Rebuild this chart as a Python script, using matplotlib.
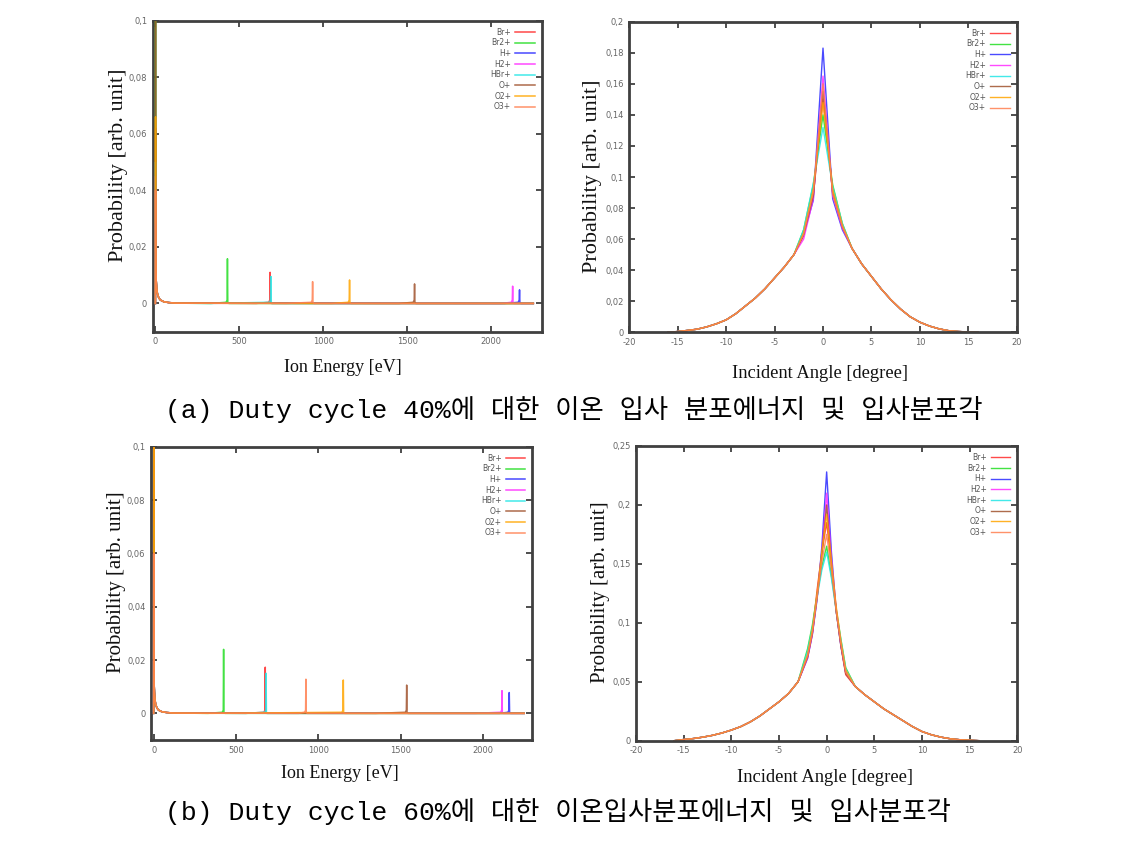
import matplotlib
matplotlib.use('Agg')
import matplotlib.pyplot as plt

species = ['Br+', 'Br2+', 'H+', 'H2+', 'HBr+', 'O+', 'O2+', 'O3+']
colors = ['#ff2a2a', '#22dd22', '#2a2aff', '#ff2aff', '#22e6e6', '#a0522d', '#ffa500', '#ff7f50']

# ---- ion energy distribution ----
low_e = [0, 1, 2, 3, 5, 8, 12, 20, 30, 50, 80, 120]
low_second = 0.02
low_tail = [0.011, 0.008, 0.0052, 0.0035, 0.002, 0.0012, 0.0006, 0.0003, 0.0001]

# duty cycle 40%
spike40 = [0.062, 0.105, 0.028, 0.045, 0.05, 0.12, 0.066, 0.04]
peak40_e = [683, 429, 2168, 2127, 688, 1543, 1156, 936]
peak40_p = [0.011, 0.0158, 0.0048, 0.0061, 0.0095, 0.0069, 0.0083, 0.0077]
base40_from = [600, 330, 2080, 2060, 330, 1450, 1050, 780]

# duty cycle 60%
spike60 = [0.11, 0.09, 0.05, 0.11, 0.07, 0.12, 0.115, 0.06]
peak60_e = [678, 425, 2160, 2116, 683, 1537, 1152, 925]
peak60_p = [0.0173, 0.024, 0.0078, 0.0085, 0.0150, 0.0106, 0.0125, 0.0128]
base60_from = [560, 330, 2100, 1950, 560, 1350, 350, 880]
base_ramp = [0.0, 0.0004, 0.0012]
e_end = 2250

# ---- incident angle distribution ----
ang_a = list(range(-16, 17))
wing_a_left = [0.0, 0.0005, 0.0012, 0.002, 0.0035, 0.0055, 0.008, 0.012, 0.017,
               0.022, 0.028, 0.035, 0.042, 0.05]
wing_a_right = [0.054, 0.044, 0.036, 0.028, 0.021, 0.015, 0.010, 0.0065, 0.004,
                0.0022, 0.001, 0.0005, 0.0002, 0.0]
core_a = [
    [0.062, 0.088, 0.150, 0.090, 0.068],
    [0.066, 0.095, 0.140, 0.095, 0.070],
    [0.063, 0.085, 0.183, 0.086, 0.066],
    [0.060, 0.086, 0.165, 0.088, 0.067],
    [0.066, 0.096, 0.132, 0.094, 0.070],
    [0.063, 0.088, 0.155, 0.090, 0.068],
    [0.064, 0.092, 0.148, 0.092, 0.069],
    [0.063, 0.090, 0.160, 0.089, 0.068],
]

ang_b = list(range(-16, -2)) + [-2, -1.5, -1, -0.5, 0, 0.5, 1, 1.5, 2] + list(range(3, 17))
wing_b_left = [0.0, 0.001, 0.0018, 0.003, 0.0045, 0.0065, 0.009, 0.012, 0.016,
               0.021, 0.027, 0.033, 0.04, 0.05]
wing_b_right = [0.046, 0.039, 0.033, 0.027, 0.022, 0.017, 0.012, 0.0078, 0.005,
                0.003, 0.0016, 0.0008, 0.0004, 0.0]
core_b = [
    [0.072, 0.092, 0.128, 0.160, 0.185, 0.150, 0.110, 0.080, 0.056],
    [0.078, 0.098, 0.124, 0.148, 0.165, 0.140, 0.112, 0.086, 0.062],
    [0.070, 0.090, 0.120, 0.165, 0.228, 0.160, 0.110, 0.080, 0.058],
    [0.070, 0.090, 0.122, 0.160, 0.210, 0.155, 0.112, 0.082, 0.058],
    [0.076, 0.096, 0.122, 0.145, 0.160, 0.138, 0.110, 0.085, 0.061],
    [0.071, 0.091, 0.122, 0.158, 0.200, 0.150, 0.110, 0.081, 0.057],
    [0.073, 0.094, 0.125, 0.160, 0.192, 0.152, 0.114, 0.084, 0.060],
    [0.072, 0.092, 0.122, 0.152, 0.175, 0.145, 0.110, 0.082, 0.058],
]

captions = ['(a) Duty cycle 40%에 대한 이온 입사 분포에너지 및 입사분포각',
            '(b) Duty cycle 60%에 대한 이온입사분포에너지 및 입사분포각']

W, H = 1121, 852
fig = plt.figure(figsize=(W / 100, H / 100), dpi=100)


def box(l, r, t, b):
    return [l / W, 1 - b / H, (r - l) / W, (b - t) / H]


def style(ax, xt, yt, ylabels):
    for s in ax.spines.values():
        s.set_linewidth(2)
        s.set_color('#404040')
    ax.set_xticks(xt)
    ax.set_yticks(yt)
    ax.set_yticklabels(ylabels)
    ax.set_xticklabels([str(v) for v in xt])
    ax.tick_params(direction='in', top=True, right=True, length=4, width=1.2,
                   color='#303030', labelsize=6, labelcolor='#666666', pad=4)
    ax.legend(loc='upper right', fontsize=5.5, markerfirst=False, frameon=False,
              handlelength=2.6, labelspacing=0.22, handletextpad=0.5,
              borderaxespad=0.5, labelcolor='#555555')


def energy_panel(ax, spike, pk_e, pk_p, base_from):
    for i, name in enumerate(species):
        e = low_e + [base_from[i], pk_e[i] - 8, pk_e[i] - 2, pk_e[i], pk_e[i] + 2, pk_e[i] + 8, e_end]
        p = [0.0, spike[i], low_second] + low_tail + base_ramp + [pk_p[i], 0.0004, 0.0, 0.0]
        ax.plot(e, p, color=colors[i], lw=1.1, alpha=0.85, label=name, zorder=3)
    ax.set_xlim(-16, 2300)
    ax.set_ylim(-0.01, 0.1)
    style(ax, [0, 500, 1000, 1500, 2000], [0, 0.02, 0.04, 0.06, 0.08, 0.1],
          ['0', '0,02', '0,04', '0,06', '0,08', '0,1'])


def angle_panel(ax, ang, wl, core, wr, ymax, yt, ylab):
    for i, name in enumerate(species):
        ax.plot(ang, wl + core[i] + wr, color=colors[i], lw=1.0, alpha=0.85, label=name)
    ax.set_xlim(-20, 20)
    ax.set_ylim(0, ymax)
    style(ax, [-20, -15, -10, -5, 0, 5, 10, 15, 20], yt, ylab)


ax1 = fig.add_axes(box(152.7, 541.7, 20.7, 331.7))
energy_panel(ax1, spike40, peak40_e, peak40_p, base40_from)
ax2 = fig.add_axes(box(629.3, 1016.7, 21.7, 332.3))
angle_panel(ax2, ang_a, wing_a_left, core_a, wing_a_right, 0.2,
            [0, 0.02, 0.04, 0.06, 0.08, 0.1, 0.12, 0.14, 0.16, 0.18, 0.2],
            ['0', '0,02', '0,04', '0,06', '0,08', '0,1', '0,12', '0,14', '0,16', '0,18', '0,2'])
ax3 = fig.add_axes(box(151, 532.3, 446.7, 740))
energy_panel(ax3, spike60, peak60_e, peak60_p, base60_from)
ax4 = fig.add_axes(box(636, 1017.3, 446, 740.7))
angle_panel(ax4, ang_b, wing_b_left, core_b, wing_b_right, 0.25,
            [0, 0.05, 0.1, 0.15, 0.2, 0.25], ['0', '0,05', '0,1', '0,15', '0,2', '0,25'])

lab = dict(family='Liberation Serif', color='#111111', ha='center', va='center')
fig.text(118 / W, 1 - 165 / H, 'Probability [arb. unit]', rotation=90, fontsize=16, **lab)
fig.text(343 / W, 1 - 367 / H, 'Ion Energy [eV]', fontsize=13, **lab)
fig.text(592 / W, 1 - 176 / H, 'Probability [arb. unit]', rotation=90, fontsize=16, **lab)
fig.text(820 / W, 1 - 374 / H, 'Incident Angle [degree]', fontsize=13.3, **lab)
fig.text(117 / W, 1 - 582 / H, 'Probability [arb. unit]', rotation=90, fontsize=15, **lab)
fig.text(340 / W, 1 - 774 / H, 'Ion Energy [eV]', fontsize=13, **lab)
fig.text(600 / W, 1 - 592 / H, 'Probability [arb. unit]', rotation=90, fontsize=15, **lab)
fig.text(825 / W, 1 - 778 / H, 'Incident Angle [degree]', fontsize=13.3, **lab)

cap = dict(family=['Liberation Mono', 'Noto Sans CJK KR'], fontsize=19, color='black',
           ha='left', va='center')
fig.text(165 / W, 1 - 410 / H, captions[0], **cap)
fig.text(165 / W, 1 - 812 / H, captions[1], **cap)

fig.savefig('out.png', dpi=100)
